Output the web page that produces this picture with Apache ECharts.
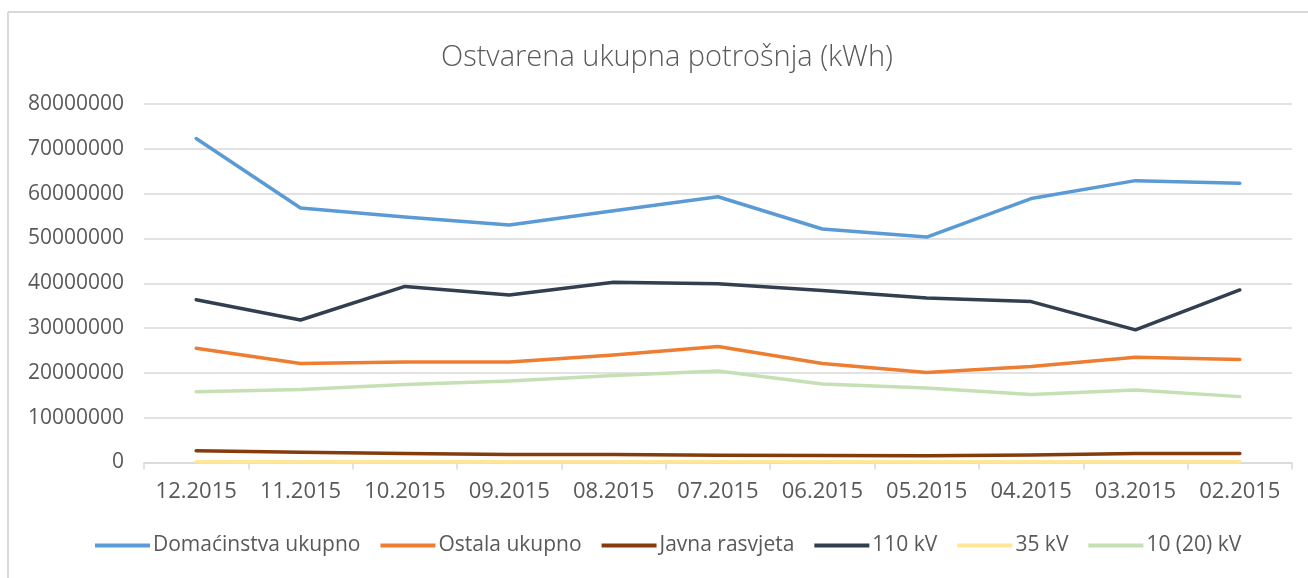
<!DOCTYPE html>
<html>
<head>
<meta charset="utf-8">
<script src="https://cdn.jsdelivr.net/npm/echarts@6/dist/echarts.min.js"></script>
<style>
  html, body { margin: 0; padding: 0; background: #fff; }
  #chart { width: 1308px; height: 578px; }
</style>
</head>
<body>
<div id="chart"></div>
<script>
// Monthly consumption by customer group (kWh)
const months = ['12.2015', '11.2015', '10.2015', '09.2015', '08.2015', '07.2015',
                '06.2015', '05.2015', '04.2015', '03.2015', '02.2015'];

const domacinstva = [72300000, 56800000, 54800000, 53000000, 56200000, 59300000,
                     52100000, 50300000, 58900000, 62900000, 62300000];
const ostala      = [25500000, 22100000, 22400000, 22400000, 24000000, 25900000,
                     22100000, 20100000, 21400000, 23500000, 23000000];
const javna       = [2600000, 2300000, 2000000, 1800000, 1800000, 1600000,
                     1550000, 1500000, 1700000, 2000000, 2000000];
const kv110       = [36300000, 31800000, 39300000, 37400000, 40200000, 39900000,
                     38400000, 36700000, 35900000, 29600000, 38500000];
const kv35        = [150000, 150000, 150000, 150000, 150000, 150000,
                     150000, 150000, 150000, 150000, 150000];
const kv10_20     = [15800000, 16300000, 17400000, 18200000, 19400000, 20400000,
                     17500000, 16600000, 15200000, 16200000, 14700000];

const yTicks = { min: 0, max: 80000000, interval: 10000000 };

const FONT = '"Open Sans", sans-serif';
const TXT = '#595959';

const seriesDefs = [
  { name: 'Domaćinstva ukupno', data: domacinstva, color: '#5B9BD5' },
  { name: 'Ostala ukupno',      data: ostala,      color: '#ED7D31' },
  { name: 'Javna rasvjeta',     data: javna,       color: '#843C0C' },
  { name: '110 kV',             data: kv110,       color: '#323F4F' },
  { name: '35 kV',              data: kv35,        color: '#FFE699' },
  { name: '10 (20) kV',         data: kv10_20,     color: '#C5E0B4' }
];

const chart = echarts.init(document.getElementById('chart'), null, { renderer: 'canvas' });

chart.setOption({
  backgroundColor: '#ffffff',
  animation: false,
  title: {
    text: 'Ostvarena ukupna potrošnja (kWh)',
    left: 436,
    top: 38,
    textStyle: { fontFamily: FONT, fontWeight: 300, fontSize: 29, color: TXT }
  },
  graphic: [
    { type: 'line', shape: { x1: 8, y1: 12, x2: 1308, y2: 12 },
      style: { stroke: '#d9d9d9', lineWidth: 2 } },
    { type: 'line', shape: { x1: 8, y1: 12, x2: 8, y2: 578 },
      style: { stroke: '#d9d9d9', lineWidth: 2 } }
  ],
  legend: {
    bottom: 17,
    left: 90,
    itemWidth: 55,
    itemHeight: 4,
    itemGap: 20,
    icon: 'rect',
    textStyle: { fontFamily: FONT, fontSize: 21, color: TXT, padding: [0, 0, 0, -2] },
    data: seriesDefs.map(s => s.name)
  },
  grid: { left: 144, right: 16, top: 104, bottom: 115.5, containLabel: false },
  xAxis: {
    type: 'category',
    data: months,
    boundaryGap: true,
    axisLine: { lineStyle: { color: '#d9d9d9', width: 1.5 } },
    axisTick: { show: true, interval: 0, length: 7, lineStyle: { color: '#d9d9d9', width: 1.5 } },
    axisLabel: { interval: 0, fontFamily: FONT, fontSize: 22, color: TXT, margin: 18 }
  },
  yAxis: {
    type: 'value',
    min: yTicks.min,
    max: yTicks.max,
    interval: yTicks.interval,
    axisLine: { show: false },
    axisTick: { show: false },
    splitLine: { lineStyle: { color: '#d9d9d9', width: 1.5 } },
    axisLabel: { fontFamily: FONT, fontSize: 21, color: TXT, margin: 20,
                 formatter: v => String(v) }
  },
  series: seriesDefs.map(s => ({
    name: s.name,
    type: 'line',
    data: s.data,
    symbol: 'none',
    lineStyle: { color: s.color, width: 3.5, cap: 'round', join: 'round' },
    itemStyle: { color: s.color }
  }))
});
</script>
</body>
</html>
